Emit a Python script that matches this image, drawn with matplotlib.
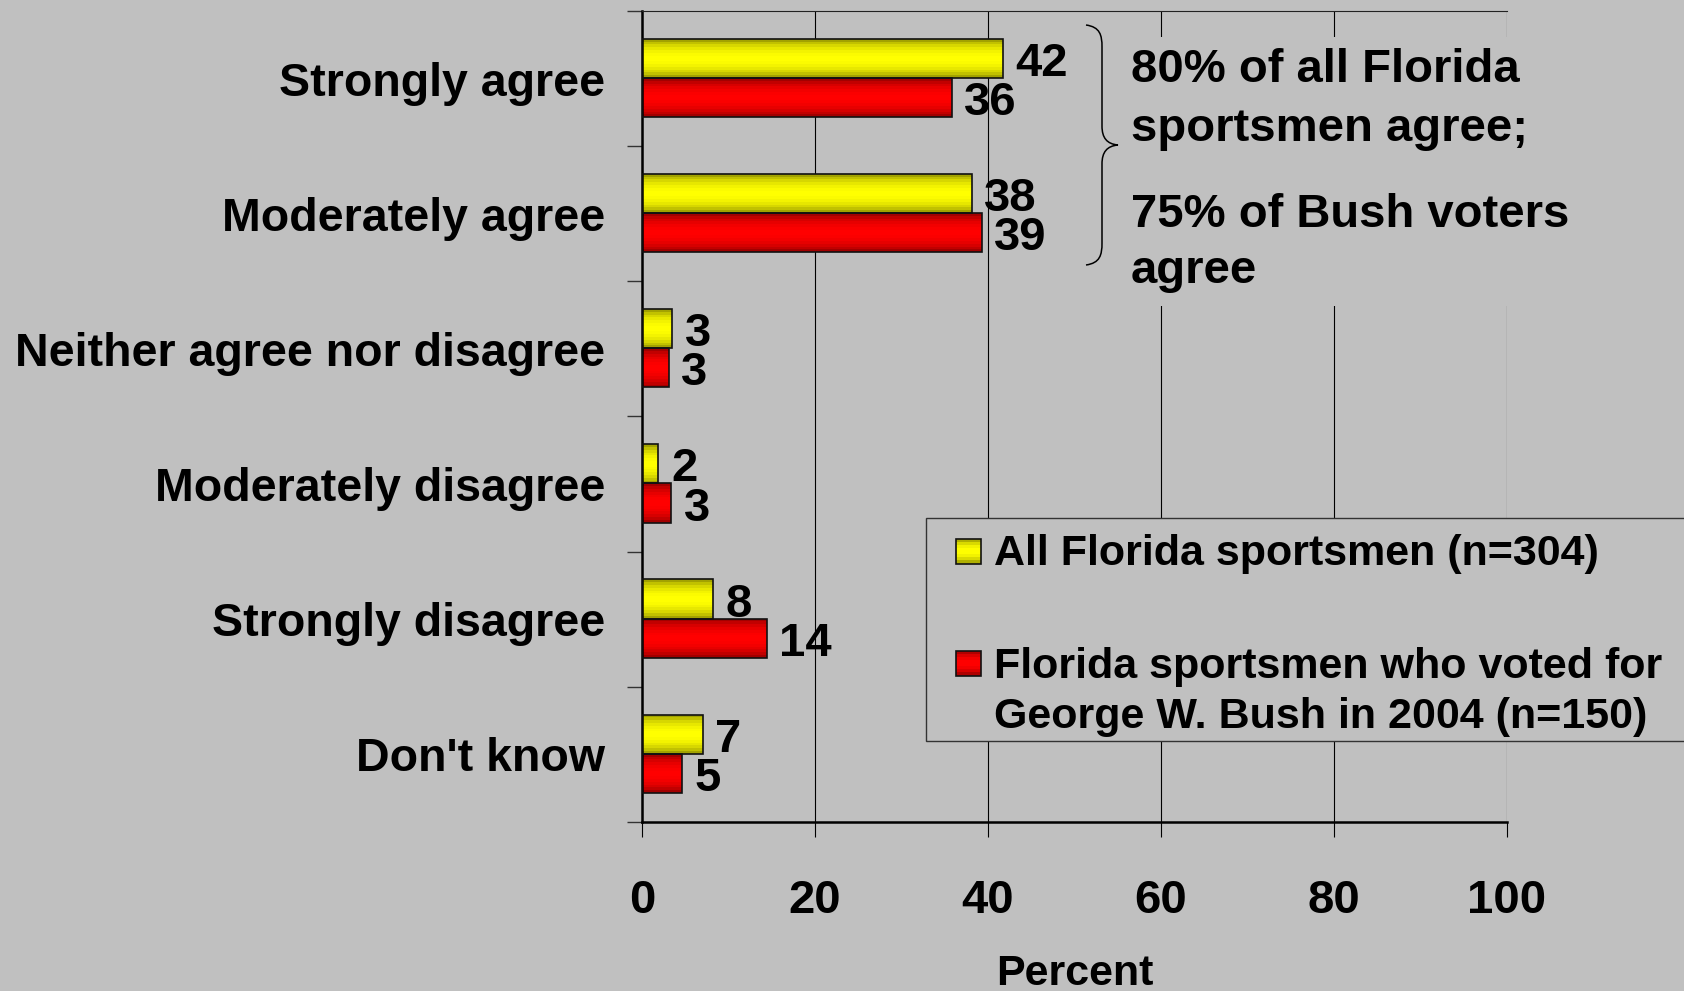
import numpy as np
import matplotlib
matplotlib.use("Agg")
import matplotlib.pyplot as plt
from matplotlib.patches import Rectangle, PathPatch
from matplotlib.path import Path

plt.rcParams['font.family'] = ['Liberation Sans', 'DejaVu Sans']
plt.rcParams['font.weight'] = 'bold'

categories = ["Strongly agree", "Moderately agree", "Neither agree nor disagree",
              "Moderately disagree", "Strongly disagree", "Don't know"]
all_sportsmen = [41.7, 38.1, 3.5, 1.9, 8.2, 7.0]
bush_voters = [35.8, 39.3, 3.1, 3.4, 14.4, 4.6]
all_labels = ["42", "38", "3", "2", "8", "7"]
bush_labels = ["36", "39", "3", "3", "14", "5"]
series_names = ["All Florida sportsmen (n=304)",
                "Florida sportsmen who voted for\nGeorge W. Bush in 2004 (n=150)"]
note_lines = ["80% of all Florida", "sportsmen agree;", "75% of Bush voters", "agree"]
xticks = [0, 20, 40, 60, 80, 100]

BG = '#C0C0C0'
W, H = 1684, 991
YELLOW = ((0.50, 0.50, 0.0), (1.0, 1.0, 0.0))
RED = ((0.50, 0.0, 0.0), (1.0, 0.0, 0.0))


def shades(pair, n):
    dark, bright = np.array(pair[0]), np.array(pair[1])
    t = (np.arange(n) + 0.5) / n
    f = np.sin(np.pi * t) ** 0.6
    return [tuple(dark + (bright - dark) * k) for k in f]


def fxy(px, py):
    # pixel position (from top-left) to figure fraction
    return px / W, 1 - py / H


def gradient_barh(ax, ypos, values, height, pair, n=14):
    cols = shades(pair, n)
    for k, c in enumerate(cols):
        yk = ypos - height / 2 + (k + 0.5) * height / n
        ax.barh(yk, values, height=height / n, color=c, linewidth=0, zorder=2)
    ax.barh(ypos, values, height=height, fill=False, edgecolor='#111111',
            linewidth=1.2, zorder=3)


def gradient_square(fig, px, py, size, pair, n=8):
    cols = shades(pair, n)
    for k, c in enumerate(cols):
        x0, y0 = fxy(px, py + (k + 1) * size / n)
        fig.add_artist(Rectangle((x0, y0), size / W, size / n / H + 0.0005,
                                 transform=fig.transFigure, facecolor=c,
                                 linewidth=0, zorder=2))
    x0, y0 = fxy(px, py + size)
    fig.add_artist(Rectangle((x0, y0), size / W, size / H, transform=fig.transFigure,
                             fill=False, edgecolor='#111111', linewidth=1.2, zorder=2.5))


fig = plt.figure(figsize=(16.84, 9.91), dpi=100, facecolor=BG)
ax = fig.add_axes([642 / W, 1 - 822 / H, (1507 - 642) / W, (822 - 11) / H])
ax.set_facecolor(BG)

y = np.arange(len(categories))
h = 0.29
gradient_barh(ax, y - 0.15, all_sportsmen, h, YELLOW)
gradient_barh(ax, y + 0.14, bush_voters, h, RED)

for yi, v, lab in zip(y - 0.15, all_sportsmen, all_labels):
    ax.annotate(lab, (v, yi), xytext=(9, -4), textcoords='offset points',
                va='center', ha='left', fontsize=34, fontweight='bold', zorder=4)
for yi, v, lab in zip(y + 0.14, bush_voters, bush_labels):
    ax.annotate(lab, (v, yi), xytext=(9, -4), textcoords='offset points',
                va='center', ha='left', fontsize=34, fontweight='bold', zorder=4)

ax.set_xlim(0, 100)
ax.set_ylim(len(categories) - 0.5, -0.5)
ax.set_xticks(xticks)
ax.set_xticklabels([str(t) for t in xticks], fontsize=34, fontweight='bold')
ax.tick_params(axis='x', length=10.8, width=0.8, pad=30.5, direction='out')
ax.set_yticks(y)
ax.set_yticklabels(categories, fontsize=33.5, fontweight='bold')
ax.tick_params(axis='y', which='major', length=0, pad=26.6)
ax.set_yticks(np.arange(len(categories) + 1) - 0.5, minor=True)
ax.tick_params(axis='y', which='minor', length=10.8, width=1, color='#333333',
               direction='out')
ax.grid(axis='x', color='black', linewidth=0.8, zorder=0)
ax.set_axisbelow(True)
ax.set_xlabel("Percent", fontsize=31, fontweight='bold', labelpad=22)

ax.spines['left'].set_linewidth(1.8)
ax.spines['bottom'].set_linewidth(1.8)
ax.spines['top'].set_linewidth(0.8)
ax.spines['top'].set_color('#222222')
ax.spines['right'].set_visible(False)

# box behind the note, hides gridlines
x0, y0 = fxy(1122, 306)
fig.add_artist(Rectangle((x0, y0), 500 / W, (306 - 37) / H, transform=fig.transFigure,
                         facecolor=BG, linewidth=0, zorder=1))

# brace
pts = [(1086, 25), (1100, 27), (1102, 35), (1102, 47),
       (1102, 126),
       (1102, 138), (1107, 144), (1118, 145),
       (1107, 146), (1102, 152), (1102, 164),
       (1102, 243),
       (1102, 255), (1100, 263), (1086, 265)]
codes = [Path.MOVETO, Path.CURVE4, Path.CURVE4, Path.CURVE4,
         Path.LINETO,
         Path.CURVE4, Path.CURVE4, Path.CURVE4,
         Path.CURVE4, Path.CURVE4, Path.CURVE4,
         Path.LINETO,
         Path.CURVE4, Path.CURVE4, Path.CURVE4]
brace = Path([fxy(px, py) for px, py in pts], codes)
fig.add_artist(PathPatch(brace, transform=fig.transFigure, fill=False,
                         edgecolor='black', linewidth=1.1, zorder=2))

for line, py in zip(note_lines, [70, 129, 215, 271]):
    fig.text(*fxy(1131, py), line, fontsize=34, fontweight='bold', va='center', ha='left')

# legend
x0, y0 = fxy(926, 741)
fig.add_artist(Rectangle((x0, y0), 800 / W, (741 - 518) / H, transform=fig.transFigure,
                         facecolor=BG, edgecolor='#333333', linewidth=1.0, zorder=1))
gradient_square(fig, 956, 539, 25, YELLOW)
gradient_square(fig, 956, 651, 25, RED)
fig.text(*fxy(994, 554), series_names[0], fontsize=31, fontweight='bold', va='center')
first, second = series_names[1].split("\n")
fig.text(*fxy(994, 667), first, fontsize=31, fontweight='bold', va='center')
fig.text(*fxy(994, 717), second, fontsize=31, fontweight='bold', va='center')

fig.savefig("out.png", dpi=100, facecolor=BG)
